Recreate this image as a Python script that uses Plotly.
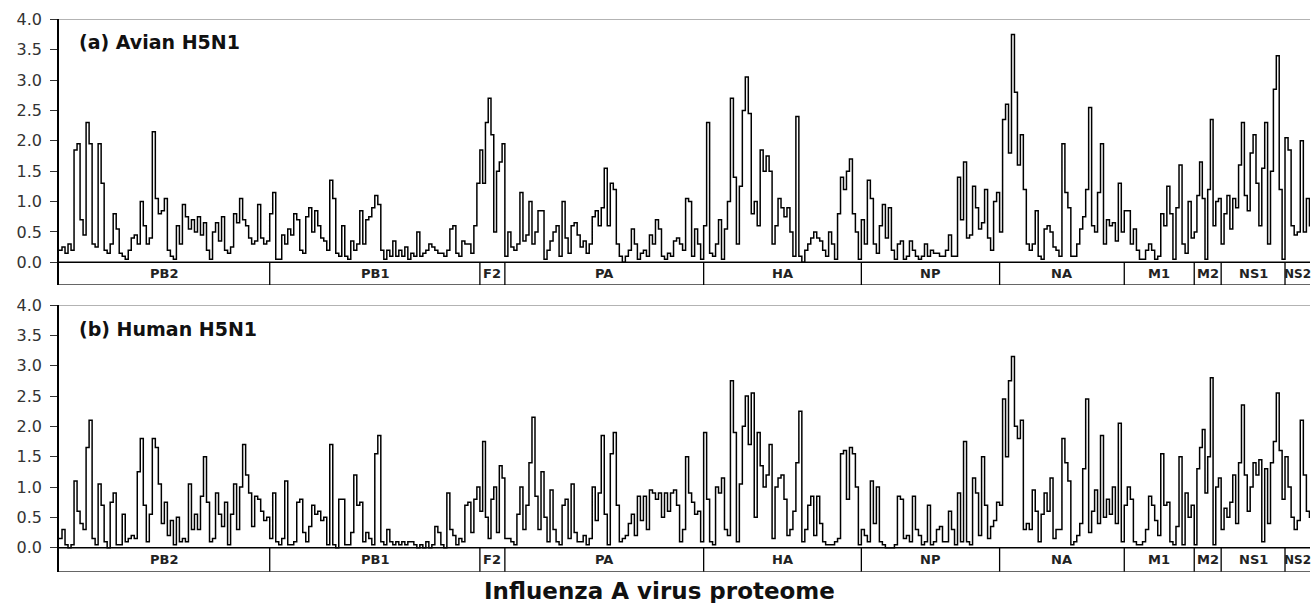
import plotly.graph_objects as go

# ---------------- data ----------------
proteins = ["PB2", "PB1", "F2", "PA", "HA", "NP", "NA", "M1", "M2", "NS1", "NS2"]
protein_lengths = [759, 757, 90, 716, 568, 498, 449, 252, 97, 230, 121]
x_max = 4506
y_ticks = [0.0, 0.5, 1.0, 1.5, 2.0, 2.5, 3.0, 3.5, 4.0]

avian_PB2 = [0.2, 0.25, 0.15, 0.3, 0.2, 1.85, 1.95, 0.7, 0.45, 2.3, 1.95, 0.3, 0.25, 1.95, 1.3, 0.2, 0.15, 0.3, 0.8, 0.55,
             0.15, 0.1, 0.05, 0.2, 0.4, 0.45, 0.3, 1.0, 0.6, 0.3, 0.4, 2.15, 1.05, 0.8, 0.85, 1.05, 0.2, 0.1, 0.05, 0.6,
             0.3, 0.95, 0.75, 0.55, 0.7, 0.5, 0.75, 0.45, 0.65, 0.2, 0.05, 0.5, 0.65, 0.35, 0.75, 0.2, 0.15, 0.25, 0.8, 0.65,
             1.05, 0.7, 0.6, 0.4, 0.3, 0.35, 0.95, 0.4, 0.3, 0.35]
avian_PB1 = [0.8, 1.15, 0.05, 0.05, 0.45, 0.3, 0.55, 0.45, 0.8, 0.7, 0.2, 0.15, 0.75, 0.9, 0.5, 0.85, 0.6, 0.4, 0.35, 0.2,
             1.35, 1.05, 0.15, 0.1, 0.6, 0.1, 0.05, 0.35, 0.2, 0.3, 0.85, 0.3, 0.7, 0.75, 0.9, 1.1, 0.95, 0.2, 0.05, 0.2,
             0.1, 0.35, 0.1, 0.2, 0.1, 0.25, 0.05, 0.15, 0.1, 0.5, 0.1, 0.15, 0.2, 0.3, 0.25, 0.2, 0.15, 0.15, 0.1, 0.2,
             0.55, 0.6, 0.15, 0.1, 0.35, 0.3, 0.3, 0.15, 0.6, 1.3]
avian_F2 = [1.85, 1.3, 2.3, 2.7, 2.1, 0.5, 1.5, 1.65, 1.95]
avian_PA = [0.1, 0.5, 0.25, 0.2, 0.3, 1.15, 0.35, 0.45, 1.0, 0.3, 0.5, 0.85, 0.85, 0.05, 0.2, 0.35, 0.5, 0.6, 0.1, 1.0,
            0.4, 0.15, 0.6, 0.65, 0.45, 0.25, 0.35, 0.15, 0.3, 0.75, 0.85, 0.6, 0.9, 1.55, 0.6, 1.3, 1.2, 0.3, 0.1, 0.0,
            0.1, 0.2, 0.55, 0.3, 0.05, 0.15, 0.2, 0.1, 0.45, 0.3, 0.7, 0.55, 0.1, 0.05, 0.15, 0.1, 0.35, 0.4, 0.3, 0.2,
            1.05, 1.0, 0.1, 0.55, 0.3, 0.05]
avian_HA = [0.6, 2.3, 0.15, 0.1, 0.3, 0.7, 0.05, 0.55, 1.0, 2.7, 1.4, 0.3, 1.25, 2.5, 3.05, 2.45, 0.8, 1.0, 0.6, 1.85,
            1.5, 1.75, 1.5, 0.3, 0.6, 1.05, 0.9, 0.75, 0.9, 0.5, 0.1, 2.4, 0.1, 0.0, 0.2, 0.3, 0.4, 0.5, 0.4, 0.35,
            0.2, 0.1, 0.5, 0.3, 0.05, 0.8, 1.4, 1.2, 1.5, 1.7, 0.8, 0.5, 0.05]
avian_NP = [0.7, 0.3, 1.35, 1.05, 0.3, 0.15, 0.6, 0.95, 0.4, 0.9, 0.2, 0.05, 0.3, 0.35, 0.05, 0.1, 0.35, 0.2, 0.1, 0.05,
            0.1, 0.3, 0.1, 0.2, 0.15, 0.15, 0.1, 0.1, 0.2, 0.45, 0.1, 0.1, 1.4, 0.7, 1.65, 0.4, 0.45, 1.25, 0.9, 0.55,
            0.65, 1.2, 0.4, 0.2, 1.0, 1.15]
avian_NA = [0.5, 2.35, 2.6, 1.8, 3.75, 2.8, 1.6, 2.1, 1.2, 0.3, 0.2, 0.3, 0.85, 0.1, 0.05, 0.55, 0.6, 0.5, 0.25, 0.2,
            0.1, 1.95, 1.15, 0.9, 0.1, 0.1, 0.3, 0.55, 0.75, 1.2, 2.55, 0.6, 0.5, 1.15, 1.95, 0.3, 0.7, 0.6, 0.65, 0.35,
            1.3, 0.5]
avian_M1 = [0.85, 0.85, 0.3, 0.55, 0.2, 0.05, 0.05, 0.2, 0.3, 0.2, 0.05, 0.1, 0.8, 0.6, 1.25, 0.8, 0.05, 0.9, 1.6, 0.3,
            0.15, 1.0, 0.4]
avian_M2 = [0.5, 1.1, 1.65, 1.05, 0.05, 1.2, 2.35, 0.6, 1.0, 1.05]
avian_NS1 = [0.3, 0.8, 1.1, 0.55, 1.05, 0.9, 1.6, 2.3, 1.1, 0.85, 1.8, 2.1, 1.3, 0.6, 1.55, 2.3, 0.3, 1.5, 2.85, 3.4,
             1.2, 0.05]
avian_NS2 = [2.05, 1.85, 0.6, 0.45, 0.5, 2.0, 0.5, 1.05, 0.6, 0.4, 0.3]

human_PB2 = [0.15, 0.3, 0.05, 0.0, 0.05, 1.1, 0.6, 0.4, 0.3, 1.65, 2.1, 0.15, 0.05, 1.05, 0.7, 0.1, 0.0, 0.75, 0.9, 0.05,
             0.05, 0.55, 0.1, 0.15, 0.2, 0.15, 1.25, 1.8, 0.7, 0.1, 0.55, 1.8, 1.65, 1.05, 0.4, 0.75, 0.2, 0.45, 0.05, 0.5,
             0.1, 0.15, 0.1, 1.05, 0.3, 0.55, 0.3, 0.85, 1.5, 0.75, 0.1, 0.15, 0.9, 0.55, 0.35, 0.75, 0.05, 0.55, 1.05, 0.3,
             1.0, 1.7, 1.2, 0.9, 0.35, 0.85, 0.8, 0.6, 0.45, 0.5]
human_PB1 = [0.15, 0.9, 0.1, 0.05, 0.15, 1.1, 0.05, 0.05, 0.1, 0.75, 0.8, 0.25, 0.1, 0.35, 0.7, 0.55, 0.6, 0.45, 0.5, 0.05,
             1.7, 0.05, 0.0, 0.8, 0.8, 0.05, 0.05, 0.25, 1.2, 0.7, 0.75, 0.1, 0.25, 0.15, 0.05, 1.55, 1.85, 0.1, 0.05, 0.3,
             0.1, 0.05, 0.1, 0.05, 0.1, 0.05, 0.1, 0.1, 0.05, 0.0, 0.05, 0.0, 0.1, 0.0, 0.05, 0.35, 0.25, 0.05, 0.0, 0.9,
             0.3, 0.2, 0.05, 0.15, 0.1, 0.7, 0.75, 0.25, 0.8, 1.0]
human_F2 = [0.6, 1.75, 0.5, 0.15, 0.8, 1.0, 0.25, 1.35, 1.15]
human_PA = [0.15, 0.15, 0.1, 0.05, 0.55, 1.0, 0.3, 0.7, 1.4, 2.15, 0.85, 0.3, 1.25, 0.5, 0.1, 0.95, 0.3, 0.1, 0.05, 0.7,
            0.8, 0.15, 1.05, 0.25, 0.1, 0.1, 0.2, 0.05, 0.15, 1.0, 0.45, 0.9, 1.85, 0.55, 0.05, 1.55, 1.9, 0.7, 0.1, 0.15,
            0.2, 0.4, 0.55, 0.2, 0.85, 0.45, 0.85, 0.3, 0.95, 0.9, 0.8, 0.9, 0.5, 0.9, 0.6, 0.9, 0.95, 0.7, 0.1, 0.3,
            1.5, 0.9, 0.75, 0.55, 0.6, 0.1]
human_HA = [1.9, 0.8, 0.1, 0.05, 1.0, 0.9, 1.15, 0.3, 0.2, 2.75, 1.9, 0.1, 1.05, 2.0, 2.5, 1.7, 2.55, 0.5, 1.9, 1.35,
            1.0, 1.2, 1.7, 0.15, 1.0, 1.15, 1.2, 0.8, 0.2, 0.3, 0.6, 1.4, 2.25, 0.1, 0.3, 0.7, 0.85, 0.2, 0.85, 0.4,
            0.1, 0.05, 0.05, 0.05, 0.1, 0.15, 1.55, 1.6, 0.8, 1.65, 1.55, 1.0, 0.05]
human_NP = [0.3, 0.2, 0.1, 1.1, 0.4, 1.0, 0.1, 0.05, 0.0, 0.0, 0.0, 0.05, 0.85, 0.8, 0.15, 0.2, 0.1, 0.85, 0.3, 0.2,
            0.05, 0.1, 0.7, 0.05, 0.1, 0.3, 0.35, 0.1, 0.1, 0.6, 0.3, 0.05, 0.9, 0.1, 1.75, 0.1, 0.05, 1.15, 0.9, 0.2,
            1.5, 0.7, 0.15, 0.35, 0.45, 0.75]
human_NA = [0.7, 2.45, 1.5, 2.75, 3.15, 2.0, 1.8, 2.1, 0.3, 0.4, 0.3, 0.95, 0.6, 0.1, 0.55, 0.9, 0.6, 1.15, 0.15, 0.3,
            0.3, 1.8, 1.4, 1.1, 0.05, 0.1, 0.2, 0.4, 1.3, 2.45, 0.25, 0.6, 0.95, 0.4, 1.85, 0.5, 0.8, 0.55, 1.0, 0.4,
            2.05, 0.1]
human_M1 = [0.7, 1.0, 0.8, 0.1, 0.05, 0.05, 0.1, 0.3, 0.85, 0.7, 0.45, 0.2, 1.55, 0.7, 0.75, 0.1, 0.05, 0.35, 1.5, 0.05,
            0.9, 0.5, 0.7]
human_M2 = [0.05, 1.3, 1.65, 1.95, 0.9, 1.5, 2.8, 0.05, 1.0, 1.15]
human_NS1 = [0.3, 0.65, 0.5, 0.75, 1.2, 0.4, 1.4, 2.35, 1.2, 0.6, 1.0, 1.4, 1.2, 1.45, 0.1, 1.3, 0.4, 1.4, 1.75, 2.55,
             1.6, 0.8]
human_NS2 = [1.5, 1.0, 0.5, 0.3, 0.45, 2.1, 1.2, 0.6, 0.5, 0.4, 0.3]

avian_series = [avian_PB2, avian_PB1, avian_F2, avian_PA, avian_HA, avian_NP, avian_NA,
                avian_M1, avian_M2, avian_NS1, avian_NS2]
human_series = [human_PB2, human_PB1, human_F2, human_PA, human_HA, human_NP, human_NA,
                human_M1, human_M2, human_NS1, human_NS2]

# protein start positions along the proteome
starts = []
acc = 0
for L in protein_lengths:
    starts.append(acc)
    acc += L
total_len = acc


def build_xy(series):
    xs, ys = [], []
    for s0, L, vals in zip(starts, protein_lengths, series):
        n = len(vals)
        for i, v in enumerate(vals):
            xs.append(s0 + i * L / n)
            ys.append(v)
    xs.append(total_len)
    ys.append(series[-1][-1])
    return xs, ys


# ---------------- figure ----------------
W, H = 1313, 603
ML, MR = 59, 3
panels = [
    dict(series=avian_series, label="(a) Avian H5N1", top=19.3, bottom=285.0, zero=262.3, label_y=42),
    dict(series=human_series, label="(b) Human H5N1", top=305.0, bottom=571.7, zero=547.7, label_y=329),
]

fig = go.Figure()
layout = dict(
    width=W, height=H,
    margin=dict(l=ML, r=MR, t=0, b=0, autoexpand=False),
    paper_bgcolor="white", plot_bgcolor="white",
    showlegend=False,
)
shapes = []
annotations = []

for k, p in enumerate(panels):
    sfx = "" if k == 0 else str(k + 1)
    xs, ys = build_xy(p["series"])
    fig.add_trace(go.Scatter(
        x=xs, y=ys, mode="lines", line=dict(color="black", width=1.5, shape="hv"),
        xaxis="x" + sfx, yaxis="y" + sfx, hoverinfo="skip"))
    units_px = (p["zero"] - p["top"]) / 4.0
    ymin = -(p["bottom"] - p["zero"]) / units_px
    dom = [1 - p["bottom"] / H, 1 - p["top"] / H]
    layout["xaxis" + sfx] = dict(domain=[0, 1], range=[0, x_max], anchor="y" + sfx,
                                 showline=False, showgrid=False, zeroline=False,
                                 showticklabels=False, ticks="", automargin=False)
    layout["yaxis" + sfx] = dict(domain=dom, range=[ymin, 4.0], anchor="x" + sfx,
                                 tickvals=y_ticks, ticktext=["%.1f" % t for t in y_ticks],
                                 ticks="outside", ticklen=7, tickwidth=1.2, tickcolor="#333",
                                 ticklabelstandoff=5, automargin=False,
                                 tickfont=dict(family="DejaVu Sans", size=16, color="#333"),
                                 showline=True, linecolor="black", linewidth=1.5,
                                 showgrid=False, zeroline=False)
    xr, yr = "x" + sfx, "y" + sfx
    # top frame line (grey)
    shapes.append(dict(type="line", xref=xr, yref=yr, x0=0, x1=x_max, y0=4.0, y1=4.0,
                       line=dict(color="#9a9a9a", width=1.5)))
    # zero line and protein band
    shapes.append(dict(type="line", xref=xr, yref=yr, x0=0, x1=x_max, y0=0, y1=0,
                       line=dict(color="black", width=1.5)))
    shapes.append(dict(type="line", xref=xr, yref=yr, x0=0, x1=x_max, y0=ymin, y1=ymin,
                       line=dict(color="#333", width=1.5)))
    for s0 in starts[1:]:
        shapes.append(dict(type="line", xref=xr, yref=yr, x0=s0, x1=s0, y0=ymin, y1=0,
                           line=dict(color="black", width=1.3)))
    for name, s0, L in zip(proteins, starts, protein_lengths):
        end_vis = min(s0 + L, x_max)
        annotations.append(dict(x=(s0 + end_vis) / 2, y=ymin / 2, xref=xr, yref=yr, text=name,
                                showarrow=False, xanchor="center", yanchor="middle",
                                font=dict(family="DejaVu Sans", size=12 if end_vis < s0 + L else 13,
                                          color="#222", weight="bold")))
    # panel label
    annotations.append(dict(x=(77 - ML) / (W - ML - MR), y=1 - p["label_y"] / H,
                            xref="paper", yref="paper", text=p["label"], showarrow=False,
                            xanchor="left", yanchor="middle",
                            font=dict(family="DejaVu Sans", size=19, color="#111", weight="bold")))

annotations.append(dict(x=(659 - ML) / (W - ML - MR), y=1 - 591 / H, xref="paper", yref="paper",
                        text="Influenza A virus proteome", showarrow=False,
                        xanchor="center", yanchor="middle",
                        font=dict(family="DejaVu Sans", size=23, color="#111", weight="bold")))

layout["shapes"] = shapes
layout["annotations"] = annotations
fig.update_layout(**layout)
fig.write_html("out.html", config={"displayModeBar": False},
               post_script="document.body.style.margin='0px';document.body.style.overflow='hidden';")
